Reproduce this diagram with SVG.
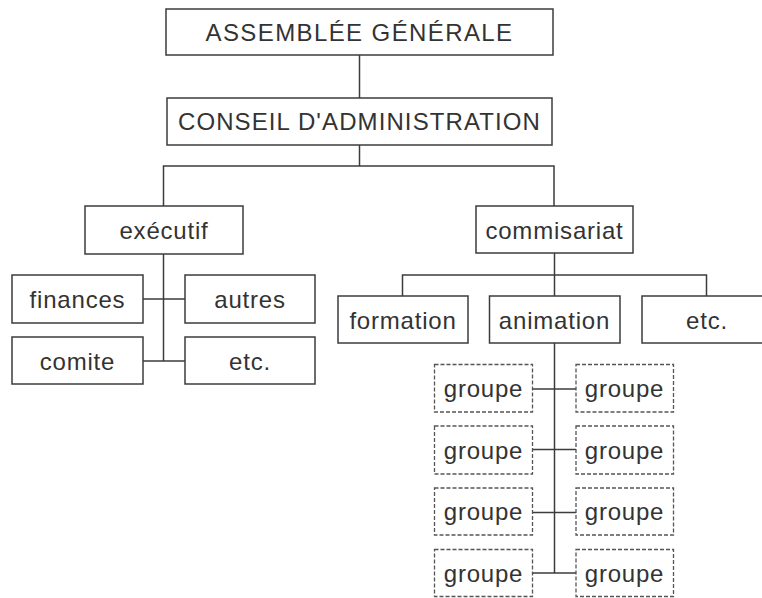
<svg xmlns="http://www.w3.org/2000/svg" width="762" height="598" viewBox="0 0 762 598">
<style>
rect{fill:#fff;stroke:#3c3c3c;stroke-width:1.5}
rect.bg{stroke:none}
rect.d{stroke:#555;stroke-width:1.3;stroke-dasharray:4 2}
text{font-family:"Liberation Sans",Arial,sans-serif;font-size:24px;fill:#333;text-anchor:middle;letter-spacing:0.8px}
#conn path{fill:none;stroke:#3c3c3c;stroke-width:1.5}
</style>
<rect class="bg" width="762" height="598"/>
<g id="conn">
<path d="M359.5 55V98M359.5 145V166M163.5 206V166H554V206"/>
<path d="M163.5 254V361M143 299H185M143 361H185"/>
<path d="M554.5 253V275M402.5 296V275H706.5V296M554.5 275V296"/>
<path d="M554.5 343V573M533 389H576M533 449.5H576M533 512.5H576M533 573H576"/>
</g>
<g id="n-ag"><rect x="166" y="9" width="387" height="46"/><text x="359.5" y="41" style="letter-spacing:1.4px">ASSEMBLÉE GÉNÉRALE</text></g>
<g id="n-ca"><rect x="167" y="98" width="385" height="47"/><text x="359.5" y="130" style="letter-spacing:1.1px">CONSEIL D'ADMINISTRATION</text></g>
<g id="n-exec"><rect x="85" y="206" width="158" height="48"/><text x="164" y="239">exécutif</text></g>
<g id="n-fin"><rect x="12" y="275" width="131" height="48"/><text x="77.5" y="308">finances</text></g>
<g id="n-autres"><rect x="185" y="275" width="130" height="48"/><text x="250" y="308">autres</text></g>
<g id="n-comite"><rect x="12" y="337" width="131" height="47"/><text x="77.5" y="369.5">comite</text></g>
<g id="n-etc1"><rect x="185" y="337" width="130" height="47"/><text x="250" y="369.5">etc.</text></g>
<g id="n-comm"><rect x="476" y="206" width="157" height="47"/><text x="554.5" y="238.5">commisariat</text></g>
<g id="n-form"><rect x="338" y="296" width="130" height="47"/><text x="403" y="328.5">formation</text></g>
<g id="n-anim"><rect x="489.5" y="296" width="130.5" height="47"/><text x="554.5" y="328.5">animation</text></g>
<g id="n-etc2"><rect x="642" y="296" width="130" height="47"/><text x="707" y="328.5">etc.</text></g>
<g id="g1"><rect class="d" x="434.5" y="364.5" width="98" height="47.5"/><text x="483.5" y="397">groupe</text></g>
<g id="g2"><rect class="d" x="576" y="364.5" width="97.5" height="47.5"/><text x="624.5" y="397">groupe</text></g>
<g id="g3"><rect class="d" x="434.5" y="426" width="98" height="48"/><text x="483.5" y="458.5">groupe</text></g>
<g id="g4"><rect class="d" x="576" y="426" width="97.5" height="48"/><text x="624.5" y="458.5">groupe</text></g>
<g id="g5"><rect class="d" x="434.5" y="488" width="98" height="47"/><text x="483.5" y="520">groupe</text></g>
<g id="g6"><rect class="d" x="576" y="488" width="97.5" height="47"/><text x="624.5" y="520">groupe</text></g>
<g id="g7"><rect class="d" x="434.5" y="549.5" width="98" height="47"/><text x="483.5" y="581.5">groupe</text></g>
<g id="g8"><rect class="d" x="576" y="549.5" width="97.5" height="47"/><text x="624.5" y="581.5">groupe</text></g>
</svg>
